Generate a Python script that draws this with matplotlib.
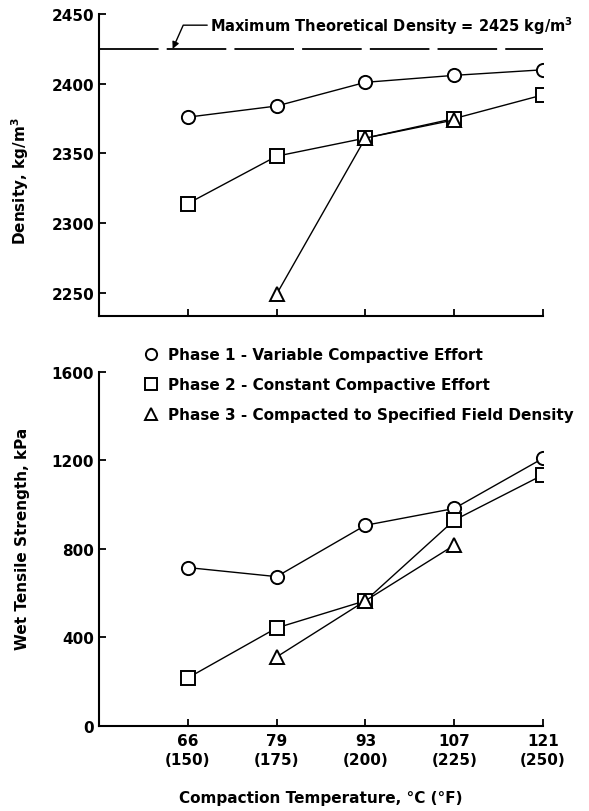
import matplotlib.pyplot as plt

plt.rcParams['font.weight'] = 'bold'
plt.rcParams['axes.labelweight'] = 'bold'

# Compaction temperature, degC (degF)
temp_c = ['66', '79', '93', '107', '121']
temp_f = ['150', '175', '200', '225', '250']
pos = [0, 1, 2, 3, 4]

# Density, kg/m3
dens_p1 = [2376, 2384, 2401, 2406, 2410]
dens_p2 = [2314, 2348, 2361, 2375, 2392]
dens_p3_pos = [1, 2, 3]
dens_p3 = [2249, 2361, 2374]
max_density = 2425

# Wet tensile strength, kPa
wts_p1 = [716, 675, 907, 983, 1210]
wts_p2 = [217, 443, 566, 930, 1135]
wts_p3_pos = [1, 2, 3]
wts_p3 = [312, 566, 817]

labels = ['Phase 1 - Variable Compactive Effort',
          'Phase 2 - Constant Compactive Effort',
          'Phase 3 - Compacted to Specified Field Density']


def style_axes(ax):
    for s in ['top', 'right']:
        ax.spines[s].set_visible(False)
    for s in ['left', 'bottom']:
        ax.spines[s].set_linewidth(1.5)
    ax.tick_params(direction='in', length=5, width=1.3, labelsize=11)
    ax.set_xlim(-1, 4)
    ax.set_xticks(pos)


def do_plot():
    f = plt.figure(figsize=(5.89, 8.12), dpi=100)
    mk = dict(color='black', lw=1.0, ms=9.5, mew=1.4, mfc='white', mec='black')

    # top panel: density
    ax1 = f.add_axes([0.168, 0.609, 0.754, 0.3725])
    style_axes(ax1)
    ax1.plot(pos, dens_p1, marker='o', **mk)
    ax1.plot(pos, dens_p2, marker='s', **mk)
    ax1.plot(dens_p3_pos, dens_p3, marker='^', **mk)
    ax1.plot([-1, 4], [max_density, max_density], color='black', lw=1.3,
             linestyle=(0, (33, 4.5)))
    ax1.set_ylim(2233, 2450)
    ax1.set_yticks([2250, 2300, 2350, 2400, 2450])
    ax1.set_xticklabels([])
    ax1.set_ylabel('Density, kg/m$^\\mathbf{3}$', fontsize=11)
    ax1.yaxis.set_label_coords(-0.152, 0.45)
    ax1.annotate('Maximum Theoretical Density = 2425 kg/m$^\\mathbf{3}$',
                 xy=(-0.17, max_density), xytext=(0.25, 2442),
                 fontsize=10.5, va='center', ha='left',
                 arrowprops=dict(arrowstyle='-|>', color='black', lw=1.0,
                                 mutation_scale=10, shrinkA=0, shrinkB=0,
                                 connectionstyle='angle,angleA=0,angleB=66,rad=0'))

    # bottom panel: wet tensile strength
    ax2 = f.add_axes([0.168, 0.1047, 0.754, 0.436])
    style_axes(ax2)
    h1, = ax2.plot(pos, wts_p1, marker='o', **mk)
    h2, = ax2.plot(pos, wts_p2, marker='s', **mk)
    h3, = ax2.plot(wts_p3_pos, wts_p3, marker='^', **mk)
    ax2.set_ylim(0, 1600)
    ax2.set_yticks([0, 400, 800, 1200, 1600])
    ax2.set_xticklabels(['%s\n(%s)' % (c, t) for c, t in zip(temp_c, temp_f)],
                        linespacing=1.3)
    ax2.tick_params(axis='x', pad=5)
    ax2.set_ylabel('Wet Tensile Strength, kPa', fontsize=11)
    ax2.yaxis.set_label_coords(-0.155, 0.53)
    ax2.set_xlabel('Compaction Temperature, \u00b0C (\u00b0F)', fontsize=11,
                   labelpad=17)

    leg = f.legend([h1, h2, h3], labels, loc='upper left',
                   bbox_to_anchor=(0.256, 0.5715), frameon=False, fontsize=11,
                   handlelength=0, handletextpad=1.1, labelspacing=1.0,
                   borderaxespad=0, borderpad=0, markerscale=0.85)
    for h in leg.legend_handles:
        h.set_linestyle('None')

    plt.savefig('out.png', format='png', dpi=100)


if __name__ == '__main__':
    do_plot()
